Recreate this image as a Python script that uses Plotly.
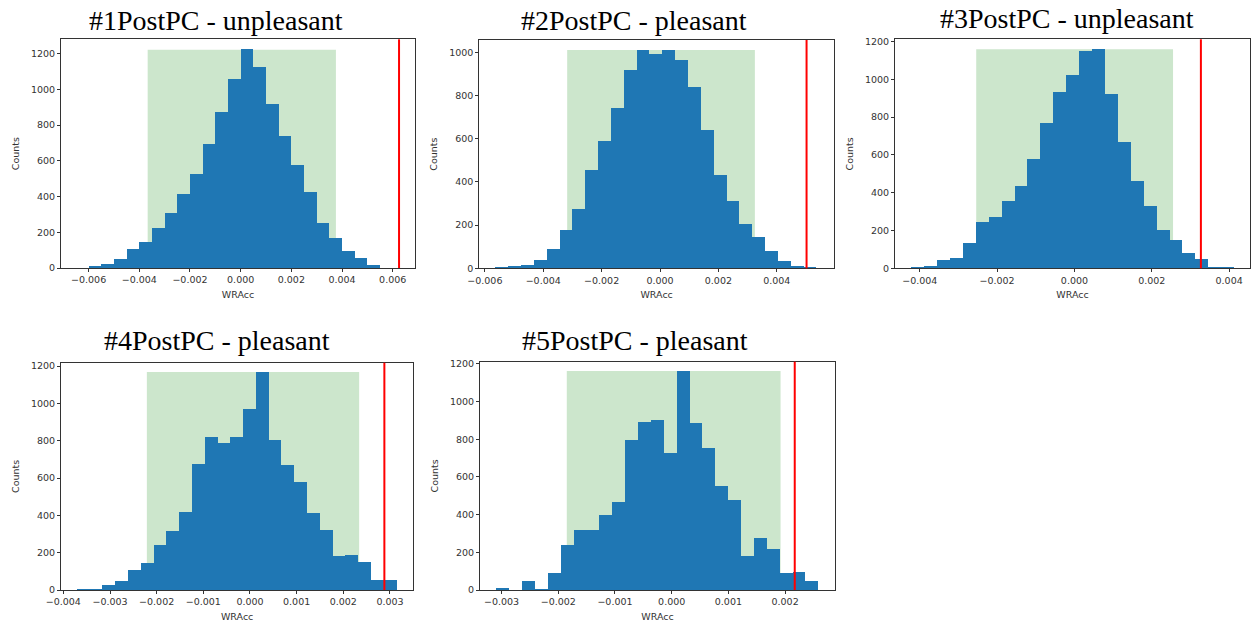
import plotly.graph_objects as go

W, H = 1258, 625

titles = ["#1PostPC - unpleasant", "#2PostPC - pleasant", "#3PostPC - unpleasant",
          "#4PostPC - pleasant", "#5PostPC - pleasant"]

# histogram bins: first edge, bin width, counts
bin_start = [-0.006, -0.00563, -0.00422, -0.00371, -0.00309]
bin_width = [0.0005, 0.00044, 0.000334, 0.000274, 0.000227]

counts_1 = [5, 22, 48, 106, 142, 224, 308, 414, 526, 692, 870, 1055, 1222, 1121, 916,
            739, 573, 425, 248, 164, 95, 56, 17]
counts_2 = [5, 9, 15, 40, 88, 177, 273, 454, 591, 742, 920, 1011, 991, 1011, 963, 840,
            640, 431, 312, 204, 145, 79, 35, 9, 4]
counts_3 = [5, 10, 44, 55, 132, 242, 268, 353, 432, 577, 768, 932, 1020, 1149, 1159, 921,
            665, 459, 326, 201, 150, 78, 46, 5, 5]
counts_4 = [5, 5, 27, 48, 109, 148, 245, 316, 420, 679, 823, 791, 823, 970, 1168, 807,
            671, 582, 414, 321, 182, 188, 154, 57, 57]
counts_5 = [11, 0, 51, 7, 90, 242, 318, 318, 400, 471, 798, 894, 903, 731, 1163, 887,
            757, 556, 478, 184, 280, 218, 94, 99, 50]
all_counts = [counts_1, counts_2, counts_3, counts_4, counts_5]

# shaded interval (low, high) and observed value (red line)
span_low = [-0.00367, -0.00318, -0.00254, -0.00221, -0.00185]
span_high = [0.00376, 0.00325, 0.00255, 0.00234, 0.00192]
observed = [0.00625, 0.00502, 0.00327, 0.00288, 0.00217]

x_ranges = [[-0.00709, 0.00688], [-0.00619, 0.00596], [-0.00464, 0.00454],
            [-0.00405, 0.0035], [-0.00338, 0.00288]]
y_ranges = [[0, 1280], [0, 1057], [0, 1212], [0, 1218], [0, 1212]]
x_dtick = [0.002, 0.002, 0.002, 0.001, 0.001]
y_dtick = [200, 200, 200, 200, 200]

# layout (pixels): plot area boxes and title centres
boxes = [(61, 415, 39.3, 268), (479.3, 834, 40, 268.3), (895, 1250, 39.3, 268.3),
         (61, 413.3, 362.7, 590), (480, 835, 361.7, 590)]
title_pos = [(216, 20), (634, 20), (1067, 19), (217, 340), (635, 340)]

fig = go.Figure()
tick_font = dict(family="DejaVu Sans", size=9.5, color="#333333")
label_font = dict(family="DejaVu Sans", size=9.5, color="#333333")

for i in range(5):
    n = i + 1
    xa = "x" if n == 1 else f"x{n}"
    ya = "y" if n == 1 else f"y{n}"
    counts = all_counts[i]
    centers = [bin_start[i] + (k + 0.5) * bin_width[i] for k in range(len(counts))]
    fig.add_trace(go.Bar(x=centers, y=counts, width=bin_width[i],
                         marker=dict(color="#1f77b4", line=dict(width=0)),
                         xaxis=xa, yaxis=ya, showlegend=False))
    # shaded interval
    fig.add_shape(type="rect", xref=xa, yref=ya, x0=span_low[i], x1=span_high[i],
                  y0=0, y1=max(counts), fillcolor="rgba(0,128,0,0.2)",
                  line=dict(width=0), layer="below")
    # observed value
    fig.add_shape(type="line", xref=xa, yref=f"{ya} domain", x0=observed[i], x1=observed[i],
                  y0=0, y1=1, line=dict(color="#ff0000", width=2))

    x0, x1, y0, y1 = boxes[i]
    ax_common = dict(showline=True, mirror=True, linecolor="#333333", linewidth=1,
                     ticks="outside", ticklen=3, tickcolor="#333333", tickwidth=1,
                     showgrid=False, zeroline=False, tickfont=tick_font, automargin=False)
    fig.update_layout(**{
        ("xaxis" if n == 1 else f"xaxis{n}"): dict(
            domain=[x0 / W, x1 / W], anchor=ya, range=x_ranges[i],
            tick0=0, dtick=x_dtick[i], tickformat=".3f",
            title=dict(text="WRAcc", font=label_font, standoff=6),
            **ax_common),
        ("yaxis" if n == 1 else f"yaxis{n}"): dict(
            domain=[1 - y1 / H, 1 - y0 / H], anchor=xa, range=y_ranges[i],
            tick0=0, dtick=y_dtick[i],
            title=dict(text="Counts", font=label_font, standoff=9),
            **ax_common),
    })
    tx, ty = title_pos[i]
    fig.add_annotation(text=titles[i], xref="paper", yref="paper", x=tx / W, y=1 - ty / H,
                       xanchor="center", yanchor="middle", showarrow=False,
                       font=dict(family="Liberation Serif", size=28, color="#000000"))

fig.update_layout(width=W, height=H, margin=dict(l=0, r=0, t=0, b=0),
                  plot_bgcolor="white", paper_bgcolor="white", bargap=0)
fig.write_html("out.html")
